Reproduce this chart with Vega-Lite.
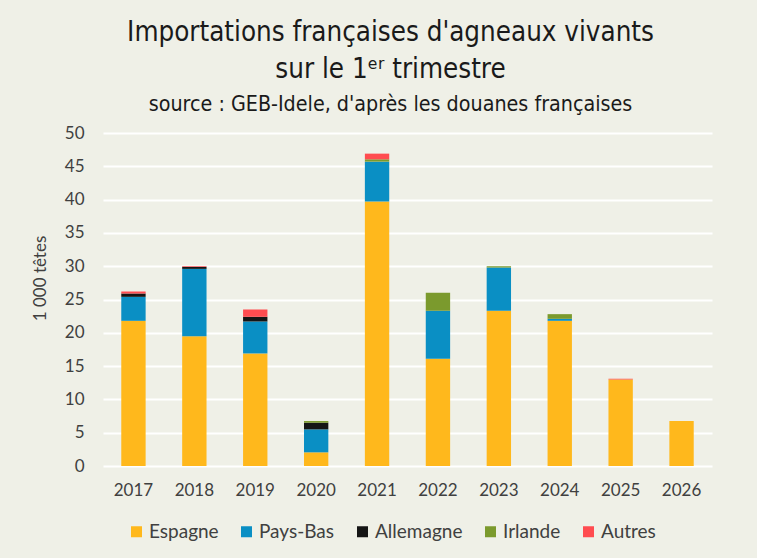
{
  "$schema": "https://vega.github.io/schema/vega-lite/v6.json",
  "width": 609,
  "height": 333,
  "autosize": {"type": "none"},
  "padding": {"left": 103, "top": 133, "right": 45, "bottom": 92},
  "background": "#EFF0E7",
  "title": {
    "text": ["Importations françaises d'agneaux vivants", "sur le 1ᵉʳ trimestre"],
    "subtitle": "source : GEB-Idele, d'après les douanes françaises",
    "anchor": "middle",
    "frame": "group",
    "dx": -17,
    "offset": 9,
    "font": "Liberation Sans Narrow, DejaVu Sans Condensed, Roboto, sans-serif",
    "fontSize": 27.5,
    "fontWeight": "normal",
    "lineHeight": 37,
    "color": "#1a1a1a",
    "subtitleFont": "Liberation Sans Narrow, DejaVu Sans Condensed, Roboto, sans-serif",
    "subtitleFontSize": 21.3,
    "subtitleColor": "#1a1a1a",
    "subtitlePadding": 10
  },
  "data": {
    "values": [
      {"annee": "2017", "pays": "Espagne", "rang": 1, "valeur": 21.8},
      {"annee": "2017", "pays": "Pays-Bas", "rang": 2, "valeur": 3.6},
      {"annee": "2017", "pays": "Allemagne", "rang": 3, "valeur": 0.5},
      {"annee": "2017", "pays": "Autres", "rang": 5, "valeur": 0.3},
      {"annee": "2018", "pays": "Espagne", "rang": 1, "valeur": 19.5},
      {"annee": "2018", "pays": "Pays-Bas", "rang": 2, "valeur": 10.1},
      {"annee": "2018", "pays": "Allemagne", "rang": 3, "valeur": 0.3},
      {"annee": "2018", "pays": "Autres", "rang": 5, "valeur": 0.1},
      {"annee": "2019", "pays": "Espagne", "rang": 1, "valeur": 16.9},
      {"annee": "2019", "pays": "Pays-Bas", "rang": 2, "valeur": 4.8},
      {"annee": "2019", "pays": "Allemagne", "rang": 3, "valeur": 0.7},
      {"annee": "2019", "pays": "Autres", "rang": 5, "valeur": 1.1},
      {"annee": "2020", "pays": "Espagne", "rang": 1, "valeur": 2.05},
      {"annee": "2020", "pays": "Pays-Bas", "rang": 2, "valeur": 3.45},
      {"annee": "2020", "pays": "Allemagne", "rang": 3, "valeur": 1.0},
      {"annee": "2020", "pays": "Irlande", "rang": 4, "valeur": 0.25},
      {"annee": "2021", "pays": "Espagne", "rang": 1, "valeur": 39.7},
      {"annee": "2021", "pays": "Pays-Bas", "rang": 2, "valeur": 6.0},
      {"annee": "2021", "pays": "Irlande", "rang": 4, "valeur": 0.35},
      {"annee": "2021", "pays": "Autres", "rang": 5, "valeur": 0.85},
      {"annee": "2022", "pays": "Espagne", "rang": 1, "valeur": 16.1},
      {"annee": "2022", "pays": "Pays-Bas", "rang": 2, "valeur": 7.2},
      {"annee": "2022", "pays": "Irlande", "rang": 4, "valeur": 2.7},
      {"annee": "2023", "pays": "Espagne", "rang": 1, "valeur": 23.3},
      {"annee": "2023", "pays": "Pays-Bas", "rang": 2, "valeur": 6.5},
      {"annee": "2023", "pays": "Irlande", "rang": 4, "valeur": 0.2},
      {"annee": "2024", "pays": "Espagne", "rang": 1, "valeur": 21.8},
      {"annee": "2024", "pays": "Pays-Bas", "rang": 2, "valeur": 0.3},
      {"annee": "2024", "pays": "Irlande", "rang": 4, "valeur": 0.7},
      {"annee": "2025", "pays": "Espagne", "rang": 1, "valeur": 13.0},
      {"annee": "2025", "pays": "Autres", "rang": 5, "valeur": 0.1},
      {"annee": "2026", "pays": "Espagne", "rang": 1, "valeur": 6.75}
    ]
  },
  "mark": {"type": "bar"},
  "encoding": {
    "x": {
      "field": "annee",
      "type": "nominal",
      "scale": {"paddingInner": 0.6, "paddingOuter": 0.3},
      "axis": {
        "title": null,
        "labelAngle": 0,
        "ticks": false,
        "domain": false,
        "labelPadding": 16,
        "labelFont": "Lato, sans-serif",
        "labelFontSize": 17,
        "labelColor": "#404040"
      }
    },
    "y": {
      "field": "valeur",
      "type": "quantitative",
      "stack": "zero",
      "scale": {"domain": [0, 50], "nice": false},
      "axis": {
        "title": "1 000 têtes",
        "values": [0, 5, 10, 15, 20, 25, 30, 35, 40, 45, 50],
        "ticks": false,
        "domain": false,
        "grid": true,
        "gridColor": "#FFFFFF",
        "gridWidth": 2,
        "labelPadding": 19,
        "labelFont": "Lato, sans-serif",
        "labelFontSize": 17,
        "labelColor": "#404040",
        "titleFont": "Lato, sans-serif",
        "titleFontSize": 17,
        "titleFontWeight": "normal",
        "titleColor": "#404040",
        "titleAngle": -90,
        "titleX": -63,
        "titleY": 145,
        "titleAlign": "center",
        "titleBaseline": "middle"
      }
    },
    "order": {"field": "rang", "type": "quantitative", "sort": "ascending"},
    "color": {
      "field": "pays",
      "type": "nominal",
      "sort": ["Espagne", "Pays-Bas", "Allemagne", "Irlande", "Autres"],
      "scale": {
        "domain": ["Espagne", "Pays-Bas", "Allemagne", "Irlande", "Autres"],
        "range": ["#FFB81C", "#0A8FC4", "#151515", "#7B9A2D", "#FF4C50"]
      },
      "legend": {
        "title": null,
        "orient": "none",
        "direction": "horizontal",
        "legendX": 24,
        "legendY": 389,
        "padding": 0,
        "symbolType": "square",
        "symbolSize": 121,
        "symbolStrokeWidth": 0,
        "symbolOpacity": 1,
        "labelFont": "Lato, sans-serif",
        "labelFontSize": 19,
        "labelColor": "#404040",
        "labelOffset": 3,
        "columnPadding": 18
      }
    }
  },
  "config": {
    "view": {"stroke": null},
    "axis": {"gridOpacity": 1}
  }
}
